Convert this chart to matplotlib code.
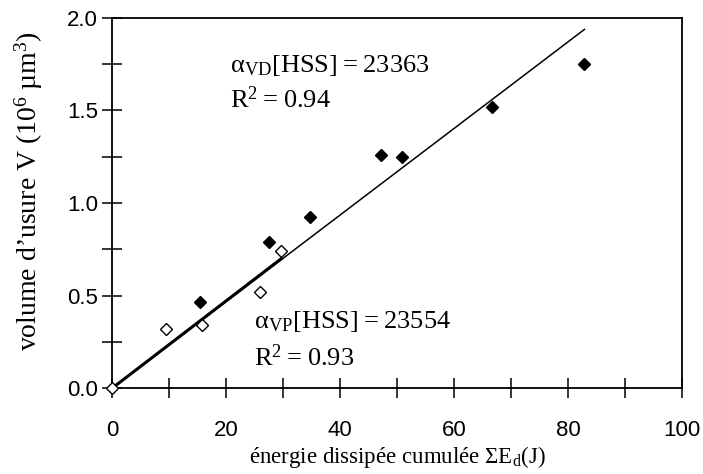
import numpy as np
import matplotlib
matplotlib.use("Agg")
import matplotlib.pyplot as plt
from matplotlib.ticker import MultipleLocator, FormatStrFormatter

plt.rcParams['font.family'] = ['Liberation Sans', 'DejaVu Sans']
plt.rcParams['mathtext.fontset'] = 'custom'
plt.rcParams['mathtext.rm'] = 'Liberation Serif'
plt.rcParams['mathtext.it'] = 'Liberation Serif:italic'
plt.rcParams['mathtext.bf'] = 'Liberation Serif:bold'

# VD data (filled diamonds)
vd_energy = [15.4, 27.5, 34.8, 47.2, 50.8, 66.6, 82.9]
vd_volume = [0.465, 0.787, 0.923, 1.259, 1.249, 1.52, 1.748]
# VP data (open diamonds)
vp_energy = [0.0, 9.5, 15.8, 25.9, 29.7]
vp_volume = [0.0, 0.32, 0.34, 0.52, 0.743]

alpha_vd = 23363
alpha_vp = 23554
r2_vd = 0.94
r2_vp = 0.93

fig = plt.figure(figsize=(7.03, 4.74), dpi=100)
ax = fig.add_axes([0.1593, 0.1808, 0.8107, 0.7819])

# fitted lines through origin
x_vd = np.array([0, max(vd_energy)])
ax.plot(x_vd, alpha_vd * 1e-6 * x_vd, color='black', lw=1.1, zorder=2)
x_vp = np.array([0, max(vp_energy)])
ax.plot(x_vp, alpha_vp * 1e-6 * x_vp, color='black', lw=2.2, zorder=2)

ax.plot(vd_energy, vd_volume, 'D', color='black', markersize=6, zorder=3)
ax.plot(vp_energy, vp_volume, 'D', markerfacecolor='white', markeredgecolor='black',
        markeredgewidth=1.0, markersize=6, zorder=3, clip_on=False)

ax.set_xlim(0, 100)
ax.set_ylim(0, 2.0)
ax.xaxis.set_major_locator(MultipleLocator(20))
ax.xaxis.set_minor_locator(MultipleLocator(10))
ax.yaxis.set_major_locator(MultipleLocator(0.5))
ax.yaxis.set_minor_locator(MultipleLocator(0.25))
ax.yaxis.set_major_formatter(FormatStrFormatter('%.1f'))

for s in ax.spines.values():
    s.set_linewidth(1.3)
ax.tick_params(which='both', direction='inout', length=14, width=1.1, labelsize=16)
ax.tick_params(axis='x', which='major', pad=16)
ax.tick_params(axis='y', which='major', pad=3)

serif = 'Liberation Serif'
ax.set_xlabel('énergie dissipée cumulée ΣE$_{\\mathrm{d}}$(J)', fontfamily=serif,
              fontsize=16.5, labelpad=2)
ax.set_ylabel('volume d’usure V (10$^{6}$ µm$^{3}$)', fontfamily=serif, fontsize=20)
ax.yaxis.set_label_coords(-0.118, 0.532)

ax.text(20.7, 1.705, 'α$_{\\mathrm{VD}}$[HSS]\u2009=\u200923363', fontfamily=serif, fontsize=19)
ax.text(20.7, 1.515, 'R$^{2}$\u2009=\u20090.94', fontfamily=serif, fontsize=19)
ax.text(24.9, 0.325, 'α$_{\\mathrm{VP}}$[HSS]\u2009=\u200923554', fontfamily=serif, fontsize=19)
ax.text(24.9, 0.12, 'R$^{2}$\u2009=\u20090.93', fontfamily=serif, fontsize=19)

fig.savefig('out.png', dpi=100)
